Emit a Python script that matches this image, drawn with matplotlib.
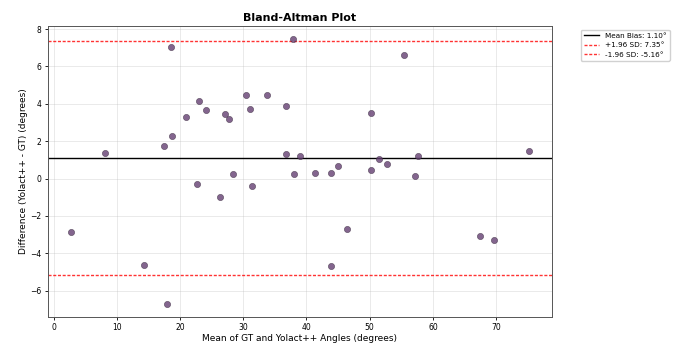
import matplotlib
matplotlib.use("Agg")
import matplotlib.pyplot as plt
import numpy as np

# mean of GT and Yolact++ angles (degrees)
mean_angles = [2.7, 8.1, 14.3, 17.5, 18.5, 18.8, 18.0, 21.0, 22.7, 23.0,
               24.1, 26.3, 27.1, 27.7, 28.4, 30.5, 31.1, 31.4, 33.8, 36.8,
               36.8, 37.9, 38.0, 38.9, 41.3, 43.9, 43.9, 45.0, 46.4, 50.2,
               50.2, 51.5, 52.8, 55.4, 57.2, 57.7, 67.4, 69.7, 75.2]
# difference Yolact++ - GT (degrees)
diffs = [-2.86, 1.37, -4.63, 1.72, 7.05, 2.29, -6.70, 3.27, -0.29, 4.13,
         3.68, -1.00, 3.43, 3.16, 0.24, 4.47, 3.72, -0.39, 4.47, 3.88,
         1.32, 7.45, 0.25, 1.20, 0.27, 0.32, -4.68, 0.66, -2.69, 3.50,
         0.45, 1.02, 0.77, 6.60, 0.14, 1.20, -3.06, -3.27, 1.46]

mean_bias = 1.10
upper_loa = 7.35
lower_loa = -5.16

fig = plt.figure(figsize=(6.83, 3.43), dpi=100)
ax = fig.add_axes([0.070, 0.076, 0.738, 0.848])

ax.scatter(mean_angles, diffs, s=20, color='#643f72', alpha=0.8, edgecolors='#3a2a40', linewidths=0.4, zorder=3)
ax.axhline(mean_bias, color='black', linewidth=1.0, label=f'Mean Bias: {mean_bias:.2f}°')
ax.axhline(upper_loa, color='red', linestyle=(0, (2.2, 1.2)), linewidth=1.0, alpha=0.8, label=f'+1.96 SD: {upper_loa:.2f}°')
ax.axhline(lower_loa, color='red', linestyle=(0, (2.2, 1.2)), linewidth=1.0, alpha=0.8, label=f'-1.96 SD: {lower_loa:.2f}°')

ax.set_title('Bland-Altman Plot', fontsize=8, fontweight='bold', pad=4)
ax.set_xlabel('Mean of GT and Yolact++ Angles (degrees)', fontsize=6.5, labelpad=1.5)
ax.set_ylabel('Difference (Yolact++ - GT) (degrees)', fontsize=6.5, labelpad=2)
ax.tick_params(labelsize=5.5, length=2.5, width=0.6, pad=2)
ax.grid(True, alpha=0.3, linewidth=0.6)
for sp in ax.spines.values():
    sp.set_linewidth(0.7)
    sp.set_color('#555555')

ax.legend(loc='upper left', bbox_to_anchor=(1.05, 1.0), fontsize=5.2, framealpha=0.9, handlelength=2.2)

fig.savefig('out.png', dpi=100)
